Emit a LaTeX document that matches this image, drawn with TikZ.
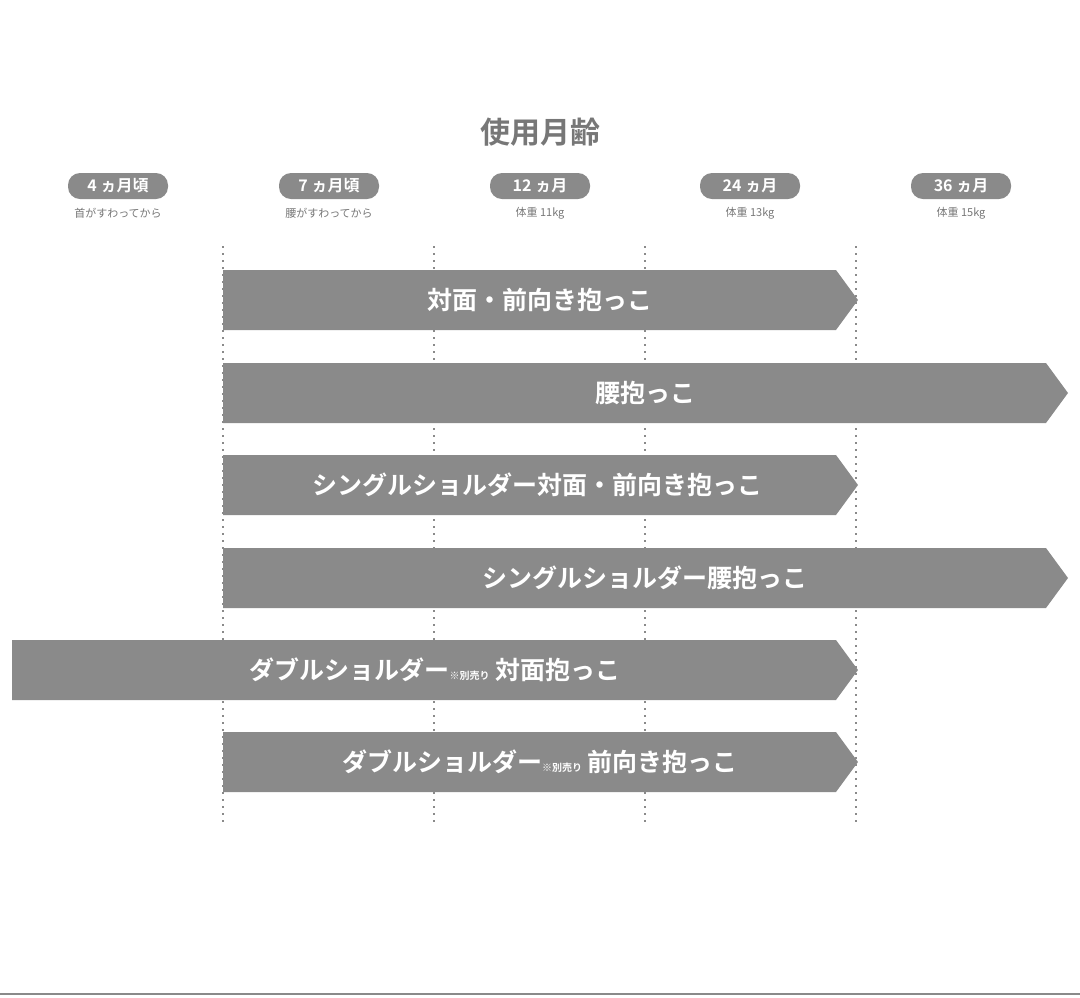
\documentclass[tikz,border=0pt]{standalone}
\usepackage{fontspec}
\setmainfont{Noto Sans CJK JP}
\newfontfamily\cjkbold{Noto Sans CJK JP Bold}
\definecolor{bargray}{HTML}{8A8A8A}
\definecolor{txtgray}{HTML}{777777}
\tikzset{
  pill/.style={fill=bargray, rounded corners=12pt, minimum width=100pt, minimum height=26pt, inner sep=0pt, text=white, font=\cjkbold\fontsize{16}{16}\selectfont},
  sub/.style={text=txtgray, font=\fontsize{11}{11}\selectfont},
  bartext/.style={text=white, font=\cjkbold\fontsize{25}{25}\selectfont},
  grid/.style={bargray, line width=2pt, dash pattern=on 2pt off 5pt}
}
% arrow bar: left, right tip, top, bottom
\newcommand{\agebar}[4]{\fill[bargray] (#1,#3) -- ({#2-22},#3) -- (#2,{(#3+#4)/2}) -- ({#2-22},#4) -- (#1,#4) -- cycle;}
\begin{document}
\begin{tikzpicture}[x=1pt, y=-1pt]
  \useasboundingbox (0,0) rectangle (1080,997);
  \draw[bargray, line width=1.5pt] (0,994) -- (1080,994);
  % title
  \node[text=txtgray, font=\cjkbold\fontsize{30}{30}\selectfont] (title) at (540,132) {使用月齢};
  % age columns
  \foreach \x/\lab/\sublab [count=\i] in {118/4 ヵ月頃/首がすわってから, 329/7 ヵ月頃/腰がすわってから, 540/12 ヵ月/体重 11kg, 750/24 ヵ月/体重 13kg, 961/36 ヵ月/体重 15kg}{
    \node[pill] (age\i) at (\x,186) {\lab};
    \node[sub] (sub\i) at (\x,213) {\sublab};
  }
  % dotted grid lines
  \foreach \x in {223,434,645,856}{
    \draw[grid] (\x,246) -- (\x,822);
  }
  % bars
  \agebar{223}{858}{270}{330}
  \agebar{223}{1068}{363}{423}
  \agebar{223}{858}{455}{515}
  \agebar{223}{1068}{548}{608}
  \agebar{12}{858}{640}{700}
  \agebar{223}{858}{732}{792}
  \node[bartext] (b1) at (540,300) {対面・前向き抱っこ};
  \node[bartext] (b2) at (645,393) {腰抱っこ};
  \node[bartext] (b3) at (537,485) {シングルショルダー対面・前向き抱っこ};
  \node[bartext] (b4) at (645,578) {シングルショルダー腰抱っこ};
  \node[bartext] (b5) at (435,670) {ダブルショルダー{\fontsize{10}{10}\selectfont ※別売り} 対面抱っこ};
  \node[bartext] (b6) at (540,762) {ダブルショルダー{\fontsize{10}{10}\selectfont ※別売り} 前向き抱っこ};
\end{tikzpicture}
\end{document}
